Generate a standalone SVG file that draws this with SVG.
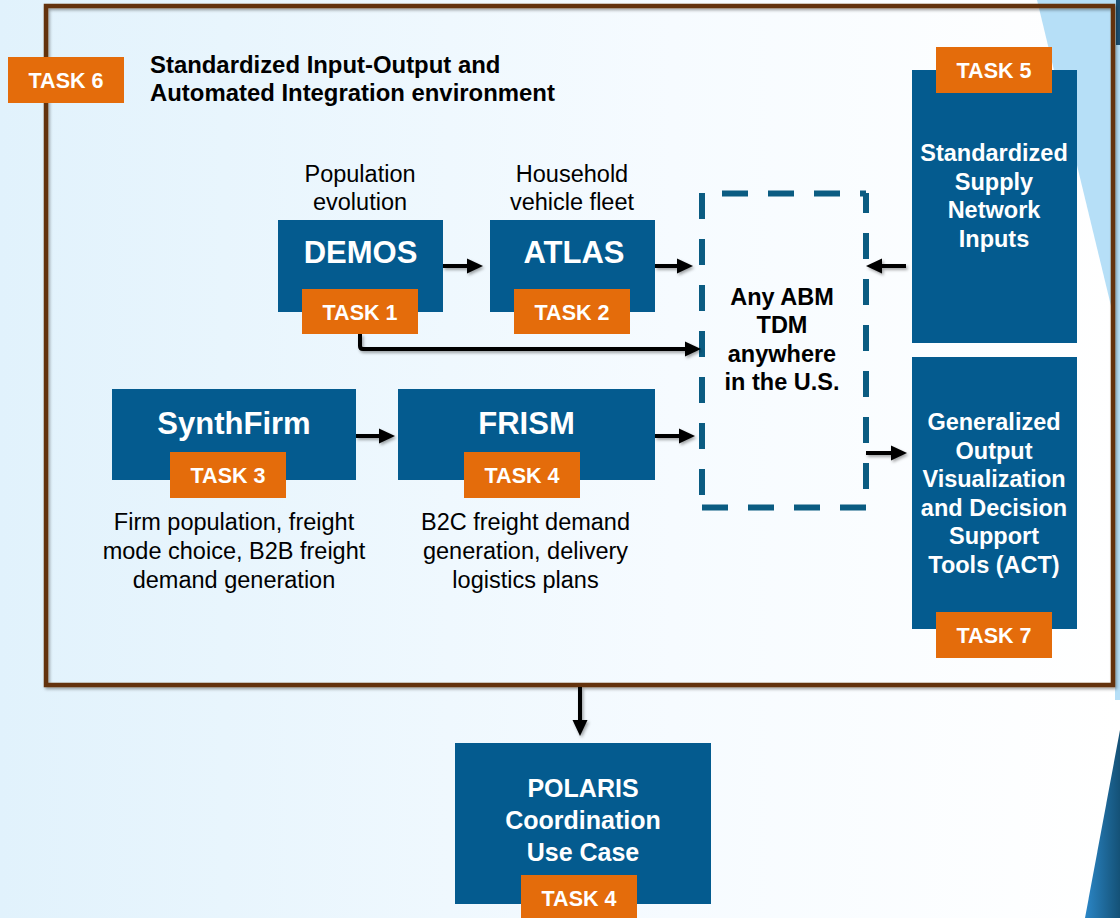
<svg xmlns="http://www.w3.org/2000/svg" width="1120" height="918" viewBox="0 0 1120 918">
<defs>
<linearGradient id="bg" x1="0" y1="0" x2="1" y2="0">
<stop offset="0" stop-color="#e1f2fc"/>
<stop offset="0.6" stop-color="#f6fbff"/>
<stop offset="1" stop-color="#ffffff"/>
</linearGradient>
<linearGradient id="wedge" x1="0" y1="0" x2="1" y2="0">
<stop offset="0" stop-color="#2b86c6"/>
<stop offset="1" stop-color="#145176"/>
</linearGradient>
<filter id="sh" x="-20%" y="-20%" width="140%" height="140%">
<feDropShadow dx="1.5" dy="2" stdDeviation="1.5" flood-color="#000" flood-opacity="0.35"/>
</filter>
<marker id="ah" markerUnits="userSpaceOnUse" markerWidth="16" markerHeight="16" viewBox="0 0 16 16" refX="4" refY="8" orient="auto">
<path d="M0,0.5 L16,8 L0,15.5 Z" fill="#000"/>
</marker>
<style>
.blue{fill:#045b8f}
.org{fill:#e46c0b}
.tk{font-family:"Liberation Sans",Arial,sans-serif;font-weight:bold;font-size:21.5px;fill:#fff;text-anchor:middle}
.big{font-family:"Liberation Sans",Arial,sans-serif;font-weight:bold;font-size:31px;fill:#fff;text-anchor:middle}
.wb{font-family:"Liberation Sans",Arial,sans-serif;font-weight:bold;font-size:23.5px;fill:#fff;text-anchor:middle}
.desc{font-family:"Liberation Sans",Arial,sans-serif;font-size:23.5px;fill:#000;text-anchor:middle}
.kb{font-family:"Liberation Sans",Arial,sans-serif;font-weight:bold;font-size:23.5px;fill:#000}
.conn{stroke:#000;stroke-width:4;fill:none;marker-end:url(#ah)}
.dash{stroke:#0b5c82;stroke-width:6;fill:none;stroke-dasharray:26 20}
</style>
</defs>

<rect x="0" y="0" width="1120" height="918" fill="url(#bg)"/>
<polygon points="1037,0 1120,0 1120,343" fill="#b6dff7"/>
<rect x="1115" y="0" width="5" height="700" fill="#b6dff7"/>
<rect x="1116" y="0" width="4" height="45" fill="#1b4f72"/>
<polygon points="1120,730 1120,918 1085,918" fill="url(#wedge)"/>

<g id="frame">
<rect x="46" y="6" width="1067" height="679" fill="none" stroke="#63300f" stroke-width="4.5" filter="url(#sh)"/>
</g>

<g id="task6">
<rect x="8" y="57" width="116" height="46" class="org"/>
<text x="66" y="88" class="tk">TASK 6</text>
</g>

<g id="title">
<text x="150" y="73" class="kb" style="font-size:23.9px">Standardized Input-Output and</text>
<text x="150" y="101" class="kb" style="font-size:23.9px">Automated Integration environment</text>
</g>

<g id="demos">
<text x="360" y="182" class="desc">Population</text>
<text x="360" y="210" class="desc">evolution</text>
<rect x="278" y="220" width="165" height="92" class="blue"/>
<text x="360.5" y="263" class="big">DEMOS</text>
<rect x="302" y="289" width="116" height="45" class="org"/>
<text x="360" y="319.5" class="tk">TASK 1</text>
</g>

<g id="atlas">
<text x="572" y="182" class="desc">Household</text>
<text x="572" y="210" class="desc">vehicle fleet</text>
<rect x="490" y="220" width="165" height="92" class="blue"/>
<text x="574" y="263" class="big">ATLAS</text>
<rect x="514" y="289" width="116" height="45" class="org"/>
<text x="572" y="319.5" class="tk">TASK 2</text>
</g>

<g id="abm">
<line x1="702" y1="193" x2="702" y2="507" class="dash"/>
<line x1="702" y1="507.5" x2="866" y2="507.5" class="dash"/>
<line x1="702" y1="193.5" x2="866" y2="193.5" class="dash" stroke-dashoffset="26"/>
<line x1="866" y1="193" x2="866" y2="507" class="dash" stroke-dashoffset="6"/>
<text x="782" y="305" class="kb" text-anchor="middle">Any ABM</text>
<text x="782" y="333" class="kb" text-anchor="middle">TDM</text>
<text x="782" y="362" class="kb" text-anchor="middle">anywhere</text>
<text x="782" y="390" class="kb" text-anchor="middle">in the U.S.</text>
</g>

<g id="supply">
<rect x="912" y="70" width="165" height="273" class="blue"/>
<rect x="936" y="47" width="116" height="46" class="org"/>
<text x="994" y="78" class="tk">TASK 5</text>
<text x="994" y="161" class="wb">Standardized</text>
<text x="994" y="189.5" class="wb">Supply</text>
<text x="994" y="218" class="wb">Network</text>
<text x="994" y="246.5" class="wb">Inputs</text>
</g>

<g id="output">
<rect x="912" y="357" width="165" height="272" class="blue"/>
<text x="994" y="430" class="wb">Generalized</text>
<text x="994" y="458.5" class="wb">Output</text>
<text x="994" y="487" class="wb">Visualization</text>
<text x="994" y="515.5" class="wb">and Decision</text>
<text x="994" y="544" class="wb">Support</text>
<text x="994" y="572.5" class="wb">Tools (ACT)</text>
<rect x="936" y="612" width="116" height="46" class="org"/>
<text x="994" y="643" class="tk">TASK 7</text>
</g>

<g id="synthfirm">
<rect x="112" y="389" width="244" height="91" class="blue"/>
<text x="234" y="434" class="big">SynthFirm</text>
<rect x="170" y="452" width="116" height="46" class="org"/>
<text x="228" y="482.5" class="tk">TASK 3</text>
<text x="234" y="530" class="desc">Firm population, freight</text>
<text x="234" y="559" class="desc">mode choice, B2B freight</text>
<text x="234" y="588" class="desc">demand generation</text>
</g>

<g id="frism">
<rect x="398" y="389" width="257" height="91" class="blue"/>
<text x="526.5" y="434" class="big">FRISM</text>
<rect x="464" y="452" width="116" height="46" class="org"/>
<text x="522" y="482.5" class="tk">TASK 4</text>
<text x="525.5" y="530" class="desc">B2C freight demand</text>
<text x="525.5" y="559" class="desc">generation, delivery</text>
<text x="525.5" y="588" class="desc">logistics plans</text>
</g>

<g id="polaris">
<rect x="455" y="743" width="256" height="161" class="blue"/>
<text x="583" y="797" class="wb" style="font-size:25px">POLARIS</text>
<text x="583" y="829" class="wb" style="font-size:25px">Coordination</text>
<text x="583" y="861" class="wb" style="font-size:25px">Use Case</text>
<rect x="521" y="875" width="116" height="46" class="org"/>
<text x="579" y="906" class="tk">TASK 4</text>
</g>

<g id="connectors" filter="url(#sh)">
<line x1="443" y1="266" x2="471" y2="266" class="conn"/>
<line x1="655" y1="266" x2="681" y2="266" class="conn"/>
<path d="M360,334 V346 Q360,349 363,349 H689" class="conn"/>
<line x1="906" y1="266" x2="878" y2="266" class="conn"/>
<line x1="356" y1="436" x2="383" y2="436" class="conn"/>
<line x1="655" y1="436" x2="683" y2="436" class="conn"/>
<line x1="866" y1="453" x2="895" y2="453" class="conn"/>
<line x1="580" y1="687" x2="580" y2="724" class="conn"/>
</g>
</svg>
